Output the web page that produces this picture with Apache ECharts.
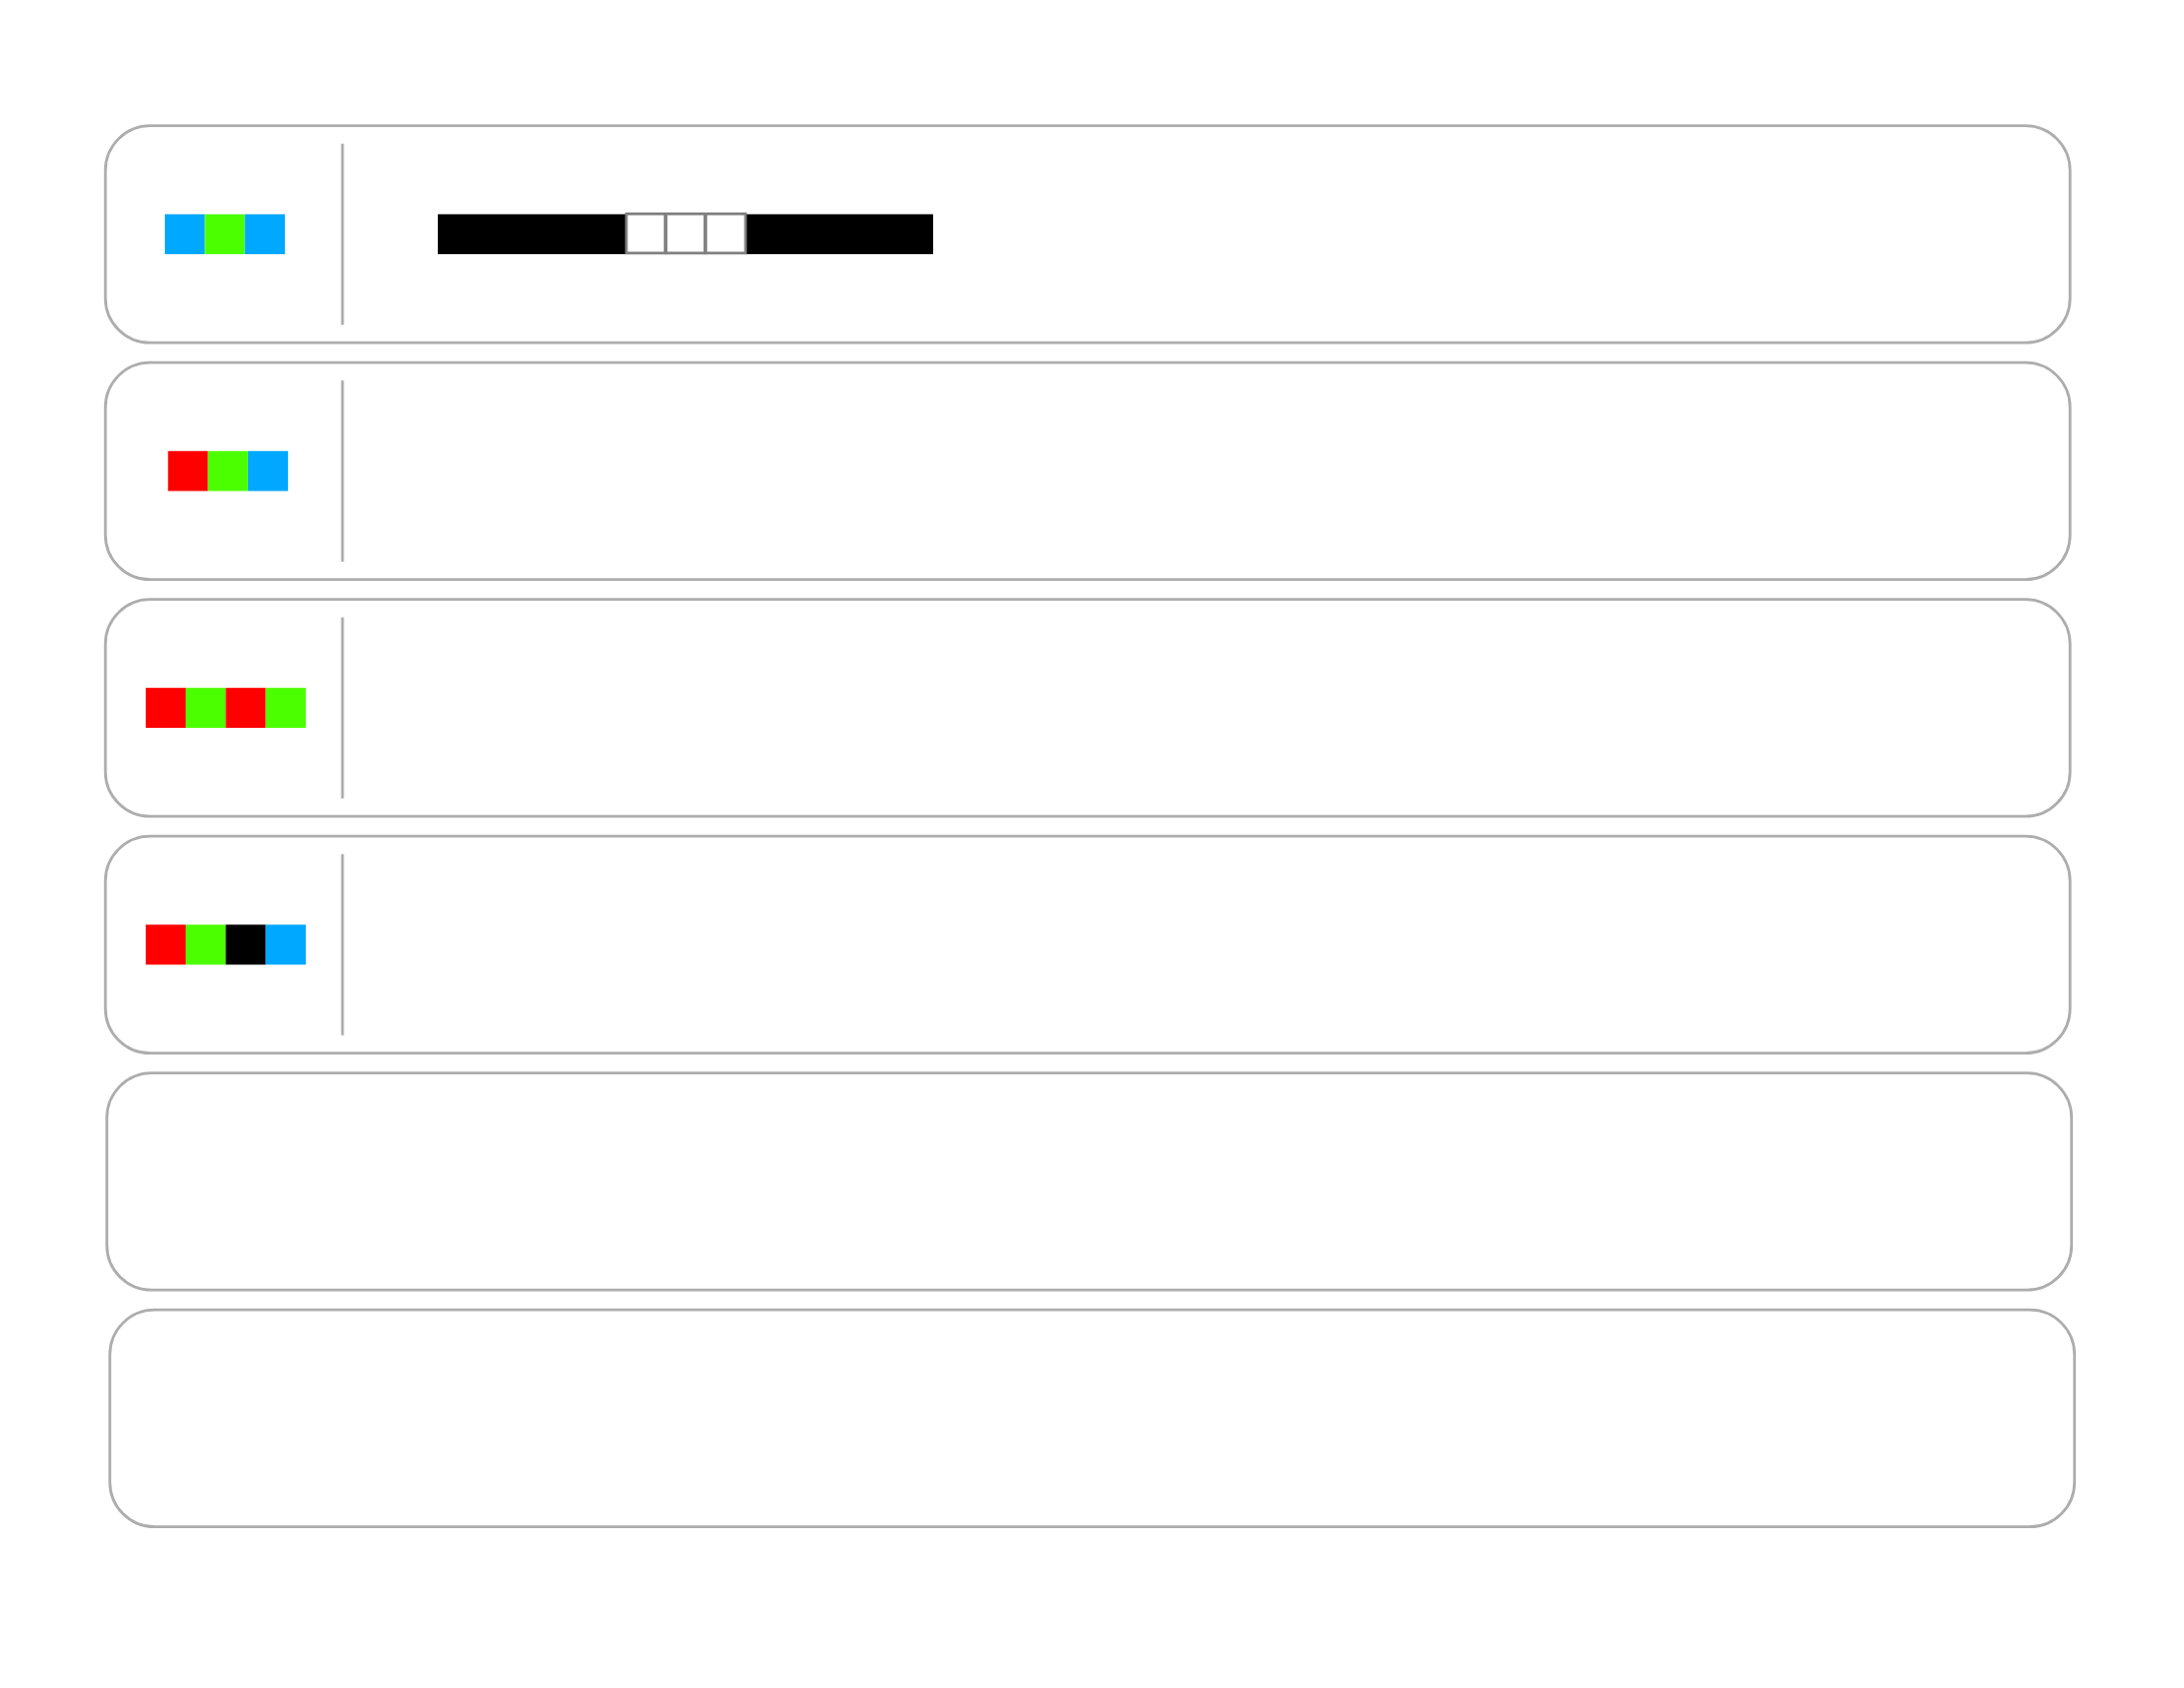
<!DOCTYPE html>
<html>
<head>
<meta charset="utf-8">
<script src="https://cdn.jsdelivr.net/npm/echarts@6/dist/echarts.min.js"></script>
<style>
html, body { margin: 0; padding: 0; background: #fff; }
#chart { width: 2200px; height: 1700px; }
</style>
</head>
<body>
<div id="chart"></div>
<script>
// chip colours used in the rows
var chipColors = { r: '#ff0000', g: '#4cff00', b: '#00a8ff', k: '#000000' };

// one entry per card, top to bottom
var rowChips = [
    ['b', 'g', 'b'],
    ['r', 'g', 'b'],
    ['r', 'g', 'r', 'g'],
    ['r', 'g', 'k', 'b'],
    [],
    []
];
var rowHasDivider = [true, true, true, true, false, false];

// the track drawn in the first card
var trackRow = 0;
var trackKinds = ['solid', 'cell', 'cell', 'cell', 'solid'];
var trackLengths = [189, 40, 40, 41, 189];

// layout (canvas px)
var CARD_TOP = 126.7;
var CARD_PITCH = 238.5;
var CARD_H = 218.5;
var CARD_LEFT = 106.2;
var CARD_W = 1979;
var CARD_DX = [0, 0, 0, 0, 1.5, 4.5];
var CARD_R = 45;
var DIVIDER_X = 345;
var DIVIDER_PAD = 18;
var CHIP = 40.3;
var CHIP_CX = [226.5, 229.7, 227.4, 227.4, 227, 227];
var TRACK_X = 441;
var BORDER = '#adadad';

var myChart = echarts.init(document.getElementById('chart'), null, { renderer: 'canvas' });

function rowCenter(i) {
    return CARD_TOP + CARD_PITCH * i + CARD_H / 2;
}

function renderCard(params, api) {
    var i = api.value(0);
    var x0 = CARD_LEFT + CARD_DX[i];
    var y0 = CARD_TOP + CARD_PITCH * i;
    var p0 = api.coord([x0, y0]);
    var p1 = api.coord([x0 + CARD_W, y0 + CARD_H]);
    var children = [{
        type: 'rect',
        shape: { x: p0[0], y: p0[1], width: p1[0] - p0[0], height: p1[1] - p0[1], r: CARD_R },
        style: { fill: '#fff', stroke: BORDER, lineWidth: 2.8 }
    }];
    if (rowHasDivider[i]) {
        var d0 = api.coord([DIVIDER_X, y0 + DIVIDER_PAD]);
        var d1 = api.coord([DIVIDER_X, y0 + CARD_H - DIVIDER_PAD]);
        children.push({
            type: 'line',
            shape: { x1: d0[0], y1: d0[1], x2: d1[0], y2: d1[1] },
            style: { stroke: BORDER, lineWidth: 2.8 }
        });
    }
    return { type: 'group', children: children };
}

function renderChip(params, api) {
    var row = api.value(0);
    var idx = api.value(1);
    var n = rowChips[row].length;
    var x = CHIP_CX[row] - n * CHIP / 2 + idx * CHIP;
    var cy = rowCenter(row);
    var p0 = api.coord([x, cy - CHIP / 2]);
    var p1 = api.coord([x + CHIP, cy + CHIP / 2]);
    return {
        type: 'rect',
        shape: { x: p0[0], y: p0[1], width: p1[0] - p0[0], height: p1[1] - p0[1] },
        style: { fill: chipColors[rowChips[row][idx]] }
    };
}

function renderTrack(params, api) {
    var start = api.value(0);
    var len = api.value(1);
    var kind = trackKinds[params.dataIndex];
    var cy = rowCenter(trackRow);
    if (kind == 'solid') {
        var p0 = api.coord([TRACK_X + start, cy - CHIP / 2]);
        var p1 = api.coord([TRACK_X + start + len, cy + CHIP / 2]);
        return {
            type: 'rect',
            shape: { x: p0[0], y: p0[1], width: p1[0] - p0[0], height: p1[1] - p0[1] },
            style: { fill: '#000' }
        };
    }
    // empty cells sit a touch higher than the black bar
    var q0 = api.coord([TRACK_X + start + 1, cy - CHIP / 2 - 0.4]);
    var q1 = api.coord([TRACK_X + start + len, cy + CHIP / 2 - 1.3]);
    return {
        type: 'rect',
        shape: { x: q0[0], y: q0[1], width: q1[0] - q0[0], height: q1[1] - q0[1] },
        z2: 5,
        style: { fill: '#fff', stroke: '#808080', lineWidth: 2.7 }
    };
}

var cardData = [];
for (var i = 0; i < rowChips.length; i++) {
    cardData.push([i]);
}
var chipData = [];
for (var r = 0; r < rowChips.length; r++) {
    for (var c = 0; c < rowChips[r].length; c++) {
        chipData.push([r, c]);
    }
}
var trackData = [];
var acc = 0;
for (var t = 0; t < trackLengths.length; t++) {
    trackData.push([acc, trackLengths[t]]);
    acc += trackLengths[t];
}

var option = {
    backgroundColor: '#fff',
    animation: false,
    grid: { left: 0, right: 0, top: 0, bottom: 0 },
    xAxis: { type: 'value', min: 0, max: 2200, show: false },
    yAxis: { type: 'value', min: 0, max: 1700, inverse: true, show: false },
    series: [
        { type: 'custom', renderItem: renderCard, data: cardData, silent: true, z: 1 },
        { type: 'custom', renderItem: renderChip, data: chipData, silent: true, z: 2 },
        { type: 'custom', renderItem: renderTrack, data: trackData, silent: true, z: 3 }
    ]
};
myChart.setOption(option);
</script>
</body>
</html>
